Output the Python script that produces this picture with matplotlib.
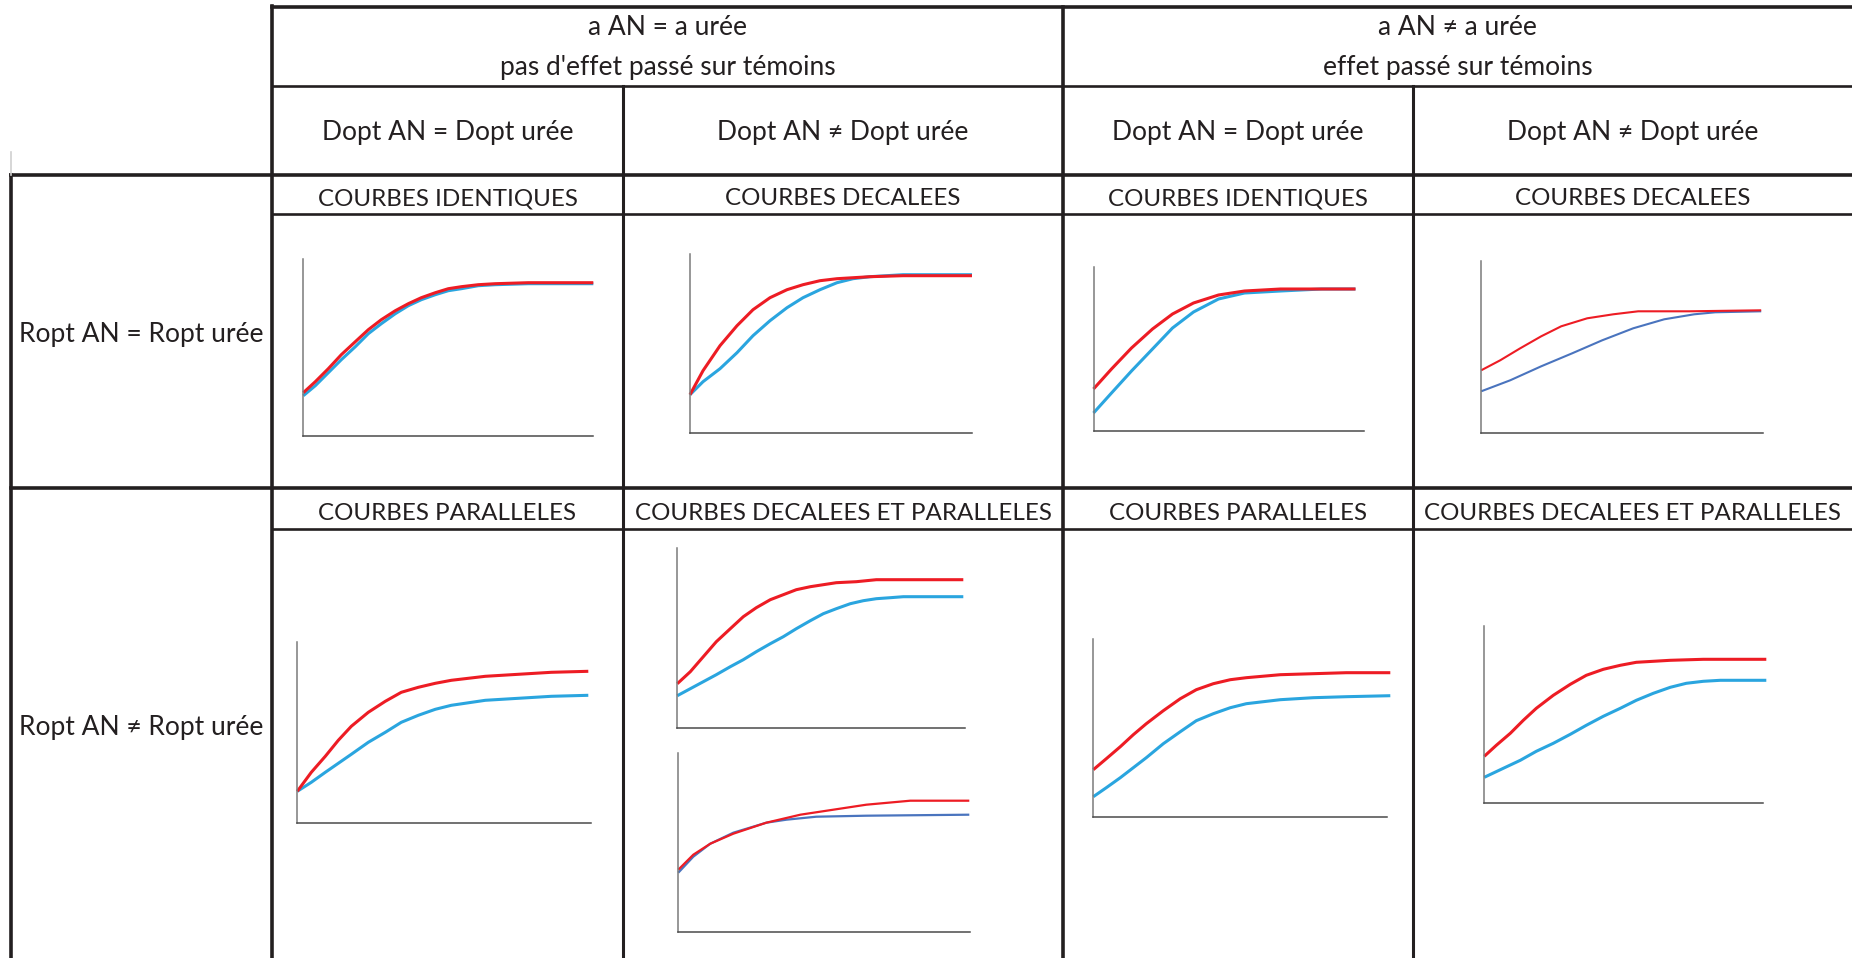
import matplotlib.pyplot as plt

plt.rcParams['font.family'] = ['Lato', 'DejaVu Sans']

# --- data (pixel units of each small chart) ---
col_headers = [("a AN = a urée", "pas d'effet passé sur témoins"),
               ("a AN ≠ a urée", "effet passé sur témoins")]
sub_headers = ["Dopt AN = Dopt urée", "Dopt AN ≠ Dopt urée",
               "Dopt AN = Dopt urée", "Dopt AN ≠ Dopt urée"]
row_headers = ["Ropt AN = Ropt urée", "Ropt AN ≠ Ropt urée"]
row1_titles = ["COURBES IDENTIQUES", "COURBES DECALEES",
               "COURBES IDENTIQUES", "COURBES DECALEES"]
row2_titles = ["COURBES PARALLELES", "COURBES DECALEES ET PARALLELES",
               "COURBES PARALLELES", "COURBES DECALEES ET PARALLELES"]

# row 1, col 1 - identical
a_x = [0, 12, 25, 38, 52, 65, 78, 92, 105, 118, 132, 145, 158, 175, 192, 225, 290]
a_red_y = [43, 54, 67, 81, 94, 106, 116, 125, 132, 138, 143, 147, 149, 151, 152, 153, 153]
a_blue_y = [40, 50, 63, 76, 89, 102, 112, 122, 130, 136, 141, 145, 147, 150, 151, 152, 152]

# row 1, col 2 - shifted
b_red_x = [0, 13, 30, 47, 63, 80, 97, 113, 130, 147, 180, 213, 282]
b_red_y = [38, 62, 87, 107, 123, 135, 143, 148, 152, 154, 156, 157, 157]
b_blue_x = [0, 13, 30, 47, 63, 80, 97, 113, 130, 147, 163, 180, 213, 282]
b_blue_y = [38, 51, 64, 80, 97, 112, 125, 135, 143, 150, 154, 156, 158, 158]

# row 1, col 3 - identical
c_x = [0, 18, 38, 59, 79, 100, 125, 151, 187, 228, 262]
c_red_y = [42, 62, 83, 102, 117, 128, 136, 140, 142, 142, 142]
c_blue_y = [18, 38, 60, 82, 103, 119, 132, 138, 140, 142, 142]

# row 1, col 4 - shifted
d_red_x = [0, 19, 39, 60, 80, 106, 132, 157, 208, 280]
d_red_y = [63, 73, 85, 97, 107, 115, 119, 122, 122, 123]
d_blue_x = [0, 29, 60, 91, 121, 152, 183, 213, 234, 280]
d_blue_y = [42, 53, 67, 80, 93, 105, 114, 119, 121, 122]

# row 2, col 1 - parallel
e_x = [0, 14, 28, 41, 54, 71, 88, 104, 121, 138, 154, 188, 221, 254, 291]
e_red_y = [32, 51, 67, 83, 97, 111, 122, 131, 136, 140, 143, 147, 149, 151, 152]
e_blue_y = [32, 41, 51, 60, 69, 81, 91, 101, 108, 114, 118, 123, 125, 127, 128]

# row 2, col 2 (top) - shifted and parallel
f1_red_x = [0, 13, 26, 39, 53, 66, 79, 93, 106, 119, 133, 146, 159, 179, 199, 226, 286]
f1_red_y = [44, 56, 71, 86, 99, 111, 120, 128, 133, 138, 141, 143, 145, 146, 148, 148, 148]
f1_blue_x = [0, 13, 26, 39, 53, 66, 79, 93, 106, 119, 133, 146, 159, 173, 186, 199,
             213, 226, 286]
f1_blue_y = [32, 39, 46, 53, 61, 68, 76, 84, 91, 99, 107, 114, 119, 124, 127, 129,
             130, 131, 131]

# row 2, col 2 (bottom)
f2_red_x = [0, 15, 32, 55, 88, 122, 155, 188, 232, 291]
f2_red_y = [62, 77, 88, 98, 109, 117, 122, 127, 131, 131]
f2_blue_x = [0, 15, 32, 55, 88, 108, 138, 188, 291]
f2_blue_y = [59, 75, 88, 99, 109, 112, 115, 116, 117]

# row 2, col 3 - parallel
g_x = [0, 13, 27, 40, 53, 70, 87, 103, 120, 137, 153, 187, 220, 253, 297]
g_red_y = [47, 58, 70, 82, 93, 106, 118, 127, 133, 137, 139, 142, 143, 144, 144]
g_blue_y = [20, 29, 39, 49, 59, 73, 85, 96, 103, 109, 113, 117, 119, 120, 121]

# row 2, col 4 - shifted and parallel
h_red_x = [0, 12, 26, 39, 52, 69, 86, 102, 119, 136, 152, 186, 219, 252, 282]
h_red_y = [47, 58, 70, 83, 95, 108, 119, 128, 134, 138, 141, 143, 144, 144, 144]
h_blue_x = [0, 19, 36, 52, 69, 86, 102, 119, 136, 152, 169, 186, 202, 219, 236, 282]
h_blue_y = [26, 35, 43, 52, 60, 69, 78, 87, 95, 103, 110, 116, 120, 122, 123, 123]

RED = '#ED1C24'
LBLUE = '#2AA5DF'
DBLUE = '#4A74BE'
INK = '#231F20'

W, H = 1852, 958
fig = plt.figure(figsize=(W / 100, H / 100), dpi=100)
bg = fig.add_axes([0, 0, 1, 1])
bg.set_xlim(0, W)
bg.set_ylim(H, 0)
bg.axis('off')

# table grid (pixel layout)
x_out, x_main, x_s1, x_mid, x_s2 = 11, 272, 623, 1063, 1413
y_top, y_h1, y_h2, y_t1, y_r1, y_t2 = 7, 86, 175, 214, 488, 529

thick, thin = 2.6, 1.9
bg.plot([x_main, W], [y_top, y_top], color=INK, lw=thick)
bg.plot([x_main, W], [y_h1, y_h1], color=INK, lw=thin)
bg.plot([x_out, W], [y_h2, y_h2], color=INK, lw=thick)
bg.plot([x_main, W], [y_t1, y_t1], color=INK, lw=thin)
bg.plot([x_out, W], [y_r1, y_r1], color=INK, lw=thick)
bg.plot([x_main, W], [y_t2, y_t2], color=INK, lw=thin)
bg.plot([x_main, x_main], [y_top - 1, H], color=INK, lw=thick)
bg.plot([x_mid, x_mid], [y_top, H], color=INK, lw=thick)
bg.plot([x_s1, x_s1], [y_h1, H], color=INK, lw=thin + 0.3)
bg.plot([x_s2, x_s2], [y_h1, H], color=INK, lw=thin + 0.3)
bg.plot([x_out, x_out], [y_h2, H], color=INK, lw=thick)
bg.plot([x_out, x_out], [152, y_h2], color='#d0d0d0', lw=1.2)

fs = 19
fs_caps = 17.4
for i, (l1, l2) in enumerate(col_headers):
    xc = [(x_main + x_mid) / 2, (x_mid + W) / 2][i]
    bg.text(xc, 27, l1, ha='center', va='center', fontsize=fs, color=INK)
    bg.text(xc, 67, l2, ha='center', va='center', fontsize=fs, color=INK)
cols = [x_main, x_s1, x_mid, x_s2, W]
for i in range(4):
    xc = (cols[i] + cols[i + 1]) / 2
    bg.text(xc, (y_h1 + y_h2) / 2 + 2, sub_headers[i], ha='center', va='center',
            fontsize=fs, color=INK)
    bg.text(xc, (y_h2 + y_t1) / 2 + 4, row1_titles[i], ha='center', va='center',
            fontsize=fs_caps, color=INK)
    bg.text(xc, (y_r1 + y_t2) / 2 + 5, row2_titles[i], ha='center', va='center',
            fontsize=fs_caps, color=INK)
bg.text((x_out + x_main) / 2, (y_h2 + y_r1) / 2 + 3, row_headers[0], ha='center',
        va='center', fontsize=fs, color=INK)
bg.text((x_out + x_main) / 2, (y_r1 + H) / 2 + 4, row_headers[1], ha='center',
        va='center', fontsize=fs, color=INK)

# small charts: (left, top, right, bottom) in figure pixels, then the curves
charts = [
    ((303.3, 259.3, 593.3, 435.7), a_x, a_red_y, a_x, a_blue_y, LBLUE, 2.2),
    ((690, 254, 972, 432.7), b_red_x, b_red_y, b_blue_x, b_blue_y, LBLUE, 2.2),
    ((1093.5, 266.7, 1363.6, 431), c_x, c_red_y, c_x, c_blue_y, LBLUE, 2.2),
    ((1481.2, 260.7, 1762.5, 433.3), d_red_x, d_red_y, d_blue_x, d_blue_y, DBLUE, 1.5),
    ((297.3, 642, 591, 823.3), e_x, e_red_y, e_x, e_blue_y, LBLUE, 2.2),
    ((677.3, 548.3, 965, 727.7), f1_red_x, f1_red_y, f1_blue_x, f1_blue_y, LBLUE, 2.2),
    ((678.3, 752.7, 970, 931.7), f2_red_x, f2_red_y, f2_blue_x, f2_blue_y, DBLUE, 1.6),
    ((1093.3, 638.7, 1386.7, 816.7), g_x, g_red_y, g_x, g_blue_y, LBLUE, 2.2),
    ((1484.3, 625.7, 1763.3, 803.3), h_red_x, h_red_y, h_blue_x, h_blue_y, LBLUE, 2.2),
]

for (l, t, r, b), rx, ry, bx, by, bcol, lw in charts:
    ax = fig.add_axes([l / W, 1 - b / H, (r - l) / W, (b - t) / H])
    ax.set_xlim(0, r - l)
    ax.set_ylim(0, b - t)
    ax.patch.set_alpha(0)
    for s in ['top', 'right']:
        ax.spines[s].set_visible(False)
    ax.spines['left'].set_color('#7a7a7a')
    ax.spines['bottom'].set_color('#4a4a4a')
    ax.spines['left'].set_linewidth(1.1)
    ax.spines['bottom'].set_linewidth(1.1)
    ax.set_xticks([])
    ax.set_yticks([])
    ax.plot(bx, by, color=bcol, lw=lw, clip_on=False, solid_capstyle='butt',
            solid_joinstyle='round')
    ax.plot(rx, ry, color=RED, lw=lw, clip_on=False, solid_capstyle='butt',
            solid_joinstyle='round')

fig.savefig('out.png', dpi=100)
